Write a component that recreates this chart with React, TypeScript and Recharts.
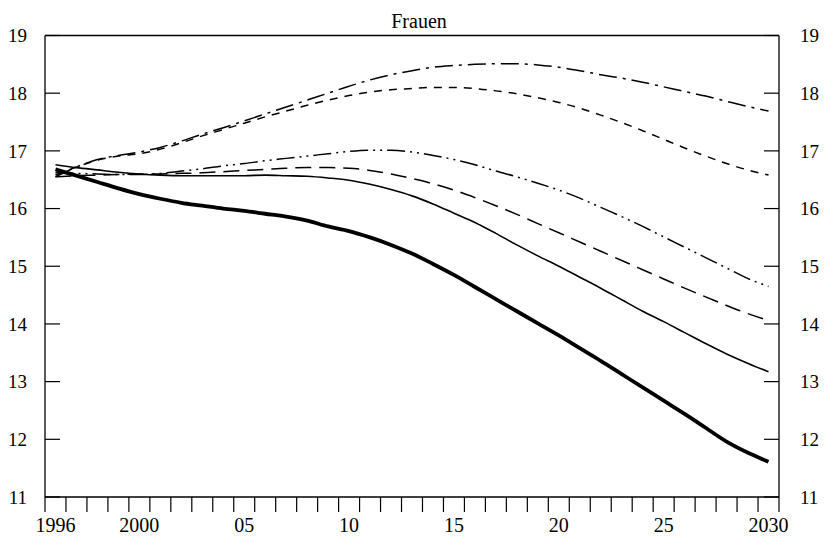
import { LineChart, Line, XAxis, YAxis, ReferenceLine } from "recharts";

const years = [
  1996, 1997, 1998, 1999, 2000, 2001, 2002, 2003, 2004, 2005, 2006, 2007,
  2008, 2009, 2010, 2011, 2012, 2013, 2014, 2015, 2016, 2017, 2018, 2019,
  2020, 2021, 2022, 2023, 2024, 2025, 2026, 2027, 2028, 2029, 2030,
];

// thick solid line
const seriesA = [
  16.68, 16.57, 16.46, 16.35, 16.25, 16.17, 16.1, 16.05, 16.0, 15.96, 15.91,
  15.86, 15.79, 15.69, 15.61, 15.5, 15.37, 15.22, 15.04, 14.85, 14.64, 14.43,
  14.22, 14.01, 13.8, 13.58, 13.36, 13.13, 12.9, 12.67, 12.44, 12.2, 11.96,
  11.77, 11.61,
];

// thin solid line
const seriesB = [
  16.76, 16.71, 16.67, 16.63, 16.6, 16.58, 16.57, 16.57, 16.57, 16.57, 16.58,
  16.57, 16.56, 16.53, 16.49, 16.42, 16.33, 16.22, 16.08, 15.92, 15.76, 15.57,
  15.37, 15.18, 15.0, 14.81, 14.62, 14.42, 14.22, 14.04, 13.85, 13.66, 13.48,
  13.32, 13.17,
];

// long dashes
const seriesC = [
  16.55, 16.57, 16.58, 16.59, 16.6, 16.6, 16.61, 16.62, 16.64, 16.66, 16.68,
  16.7, 16.71, 16.71, 16.7, 16.66, 16.6, 16.52, 16.43, 16.32, 16.19, 16.05,
  15.9, 15.74, 15.58, 15.42, 15.26, 15.1, 14.94, 14.78, 14.62, 14.47, 14.32,
  14.18, 14.06,
];

// dash dot dot
const seriesD = [
  16.62, 16.61, 16.6, 16.59, 16.59, 16.61, 16.65, 16.69, 16.74, 16.78, 16.83,
  16.87, 16.91, 16.95, 16.99, 17.01, 17.01, 16.98, 16.92, 16.85, 16.76, 16.65,
  16.55, 16.44, 16.32, 16.18, 16.02, 15.86, 15.69, 15.51, 15.33, 15.15, 14.97,
  14.79, 14.65,
];

// short dashes
const seriesE = [
  16.58, 16.72, 16.84, 16.91, 16.95, 17.03, 17.14, 17.26, 17.37, 17.48, 17.59,
  17.69, 17.79, 17.88, 17.96, 18.02, 18.06, 18.08, 18.1, 18.1, 18.08, 18.04,
  17.99, 17.92, 17.84, 17.74, 17.62, 17.49, 17.35, 17.2, 17.05, 16.91, 16.78,
  16.67, 16.58,
];

// dash dot
const seriesF = [
  16.55, 16.72, 16.85, 16.92, 16.98, 17.06, 17.17, 17.29, 17.4, 17.52, 17.64,
  17.76, 17.88, 18.0, 18.12, 18.23, 18.32, 18.39, 18.45, 18.48, 18.5, 18.51,
  18.51, 18.49, 18.45, 18.39, 18.32, 18.26, 18.19, 18.11, 18.03, 17.95, 17.86,
  17.77, 17.69,
];

const yTicks = [11, 12, 13, 14, 15, 16, 17, 18, 19];
const xLabelYears = [1996, 2000, 2005, 2010, 2015, 2020, 2025, 2030];

const data = years.map((year, i) => ({
  year,
  a: seriesA[i],
  b: seriesB[i],
  c: seriesC[i],
  d: seriesD[i],
  e: seriesE[i],
  f: seriesF[i],
}));

// tick marks sit between the years
const boundaryTicks = [...years.map((y) => y - 0.5), years[years.length - 1] + 0.5];
const xDomain = [years[0] - 0.5, years[years.length - 1] + 0.5];

const formatYear = (v: number) =>
  v === years[0] || v === years[years.length - 1] || v === 2000
    ? String(v)
    : String(v).slice(2);

const FONT = "'Liberation Serif', 'Times New Roman', serif";
const font = { fontFamily: FONT, fontSize: 20, fill: "#000" };

const SideTick = (props: any) => {
  const { x, y, payload, anchor } = props;
  return (
    <text x={x} y={y} dy="0.35em" textAnchor={anchor} fontFamily={FONT} fontSize={19} fill="#000">
      {payload.value}
    </text>
  );
};

export default function App() {
  return (
    <div style={{ position: "relative", width: 822, height: 535, fontFamily: FONT }}>
      <div
        style={{
          position: "absolute",
          top: 2,
          left: 0,
          width: 822,
          textAlign: "center",
          fontSize: 20,
          color: "#000",
        }}
      >
        Frauen
      </div>
      <LineChart
        width={822}
        height={535}
        data={data}
        margin={{ top: 27.5, right: 0, left: 0, bottom: 0 }}
      >
        <XAxis
          xAxisId="a_ticks"
          dataKey="year"
          type="number"
          domain={xDomain}
          ticks={boundaryTicks}
          tickFormatter={() => ""}
          tickSize={15}
          height={15}
          interval={0}
          stroke="#000"
          axisLine={{ stroke: "#000", strokeWidth: 1.3 }}
          tickLine={{ stroke: "#000", strokeWidth: 1.2 }}
        />
        <XAxis
          xAxisId="b_labels"
          dataKey="year"
          type="number"
          domain={xDomain}
          ticks={xLabelYears}
          tickFormatter={formatYear}
          axisLine={false}
          tickLine={false}
          tickSize={0}
          tickMargin={6}
          height={31}
          tick={font}
          interval={0}
        />
        <YAxis
          yAxisId="left"
          domain={[11, 19]}
          ticks={yTicks}
          width={37}
          tickSize={-15}
          tickMargin={33}
          tick={<SideTick anchor="end" />}
          interval={0}
          axisLine={{ stroke: "#000", strokeWidth: 1.3 }}
          tickLine={{ stroke: "#000", strokeWidth: 1.2 }}
        />
        <YAxis
          yAxisId="right"
          orientation="right"
          domain={[11, 19]}
          ticks={yTicks}
          width={51}
          tickSize={-15}
          tickMargin={36}
          tick={<SideTick anchor="start" />}
          interval={0}
          axisLine={{ stroke: "#000", strokeWidth: 1.3 }}
          tickLine={{ stroke: "#000", strokeWidth: 1.2 }}
        />
        <ReferenceLine xAxisId="a_ticks" yAxisId="left" y={19} stroke="#000" strokeWidth={1.3} />
        <Line xAxisId="a_ticks" yAxisId="left" type="monotone" dataKey="f" stroke="#000" strokeWidth={1.5} strokeDasharray="18 6 3 6" dot={false} isAnimationActive={false} />
        <Line xAxisId="a_ticks" yAxisId="left" type="monotone" dataKey="e" stroke="#000" strokeWidth={1.5} strokeDasharray="8 7" dot={false} isAnimationActive={false} />
        <Line xAxisId="a_ticks" yAxisId="left" type="monotone" dataKey="d" stroke="#000" strokeWidth={1.5} strokeDasharray="18 5 2 5 2 5" dot={false} isAnimationActive={false} />
        <Line xAxisId="a_ticks" yAxisId="left" type="monotone" dataKey="c" stroke="#000" strokeWidth={1.5} strokeDasharray="16 8" dot={false} isAnimationActive={false} />
        <Line xAxisId="a_ticks" yAxisId="left" type="monotone" dataKey="b" stroke="#000" strokeWidth={1.6} dot={false} isAnimationActive={false} />
        <Line xAxisId="a_ticks" yAxisId="right" type="monotone" dataKey="a" stroke="#000" strokeWidth={3.8} dot={false} isAnimationActive={false} />
      </LineChart>
    </div>
  );
}
